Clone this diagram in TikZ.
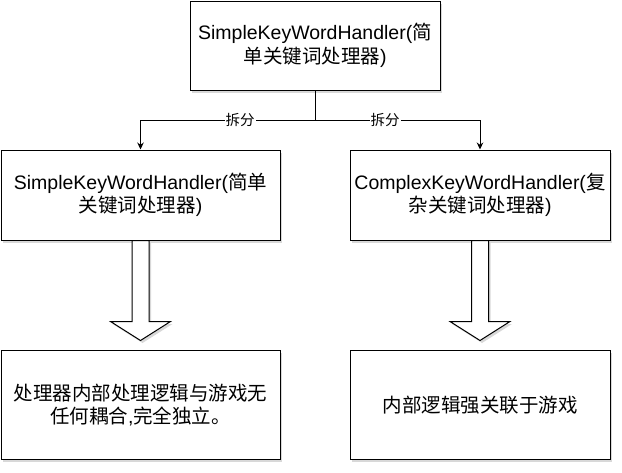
\documentclass[tikz,border=0pt]{standalone}
\usepackage{fontspec}
\setmainfont{Liberation Sans}
\newfontfamily\cjk{Noto Sans CJK SC}
\newcommand\zh[1]{{\cjk #1}}
\usetikzlibrary{arrows.meta,shadows}
\begin{document}
\begin{tikzpicture}[x=1pt,y=-1pt,
  shad/.style={drop shadow={shadow xshift=2pt,shadow yshift=-2.5pt,opacity=.22,fill=black!70}},
  box/.style={draw,line width=1pt,fill=white,inner sep=0pt,align=center,shad,
    font=\fontsize{19.5}{23.5}\selectfont},
  lbl/.style={fill=white,inner sep=1pt,font=\fontsize{14.5}{17}\selectfont},
  arr/.style={line width=1pt,-{Stealth[length=7pt,width=6.5pt]}},
  barrow/.style={draw,line width=1pt,fill=white,line join=miter,shad}]
\useasboundingbox (0,0) rectangle (622,472);
\node[box,minimum width=250pt,minimum height=89pt] (top) at (315,45.5)
  {SimpleKeyWordHandler(\zh{简}\\\zh{单关键词处理器})};
\node[box,minimum width=279pt,minimum height=90pt] (ml) at (140.5,195)
  {SimpleKeyWordHandler(\zh{简单}\\\zh{关键词处理器})};
\node[box,minimum width=260pt,minimum height=90pt] (mr) at (480,195)
  {ComplexKeyWordHandler(\zh{复}\\\zh{杂关键词处理器})};
\node[box,minimum width=279pt,minimum height=109pt] (bl) at (140.5,405)
  {\zh{处理器内部处理逻辑与游戏无}\\\zh{任何耦合},\zh{完全独立。}};
\node[box,minimum width=260pt,minimum height=109pt] (br) at (480,405)
  {\zh{内部逻辑强关联于游戏}};
\coordinate (j) at (315,120.5);
\draw[line width=1pt] (top.south) -- (j);
\draw[arr] (j) -| (ml.north);
\draw[arr] (j) -| (mr.north);
\node[lbl] (l1) at (240,120.5) {\zh{拆分}};
\node[lbl] (l2) at (385,120.5) {\zh{拆分}};
\draw[barrow] ([xshift=-8.5pt]ml.south) -- ++(0,81) -- ++(-21.5,0) -- ++(30,19)
  -- ++(30,-19) -- ++(-21.5,0) -- ++(0,-81) -- cycle;
\draw[barrow] ([xshift=-8.5pt]mr.south) -- ++(0,81) -- ++(-21.5,0) -- ++(30,19)
  -- ++(30,-19) -- ++(-21.5,0) -- ++(0,-81) -- cycle;
\end{tikzpicture}
\end{document}
